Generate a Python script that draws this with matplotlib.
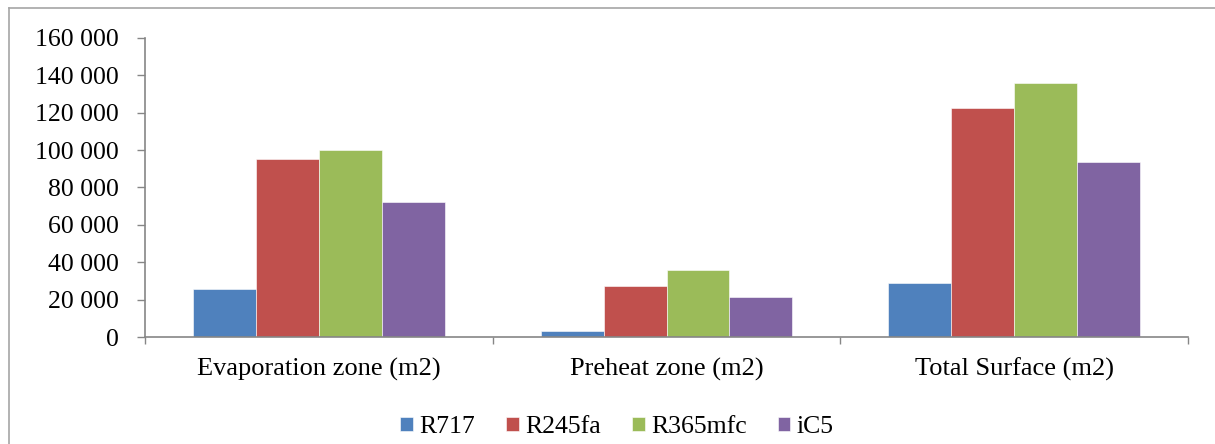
import numpy as np
import matplotlib
matplotlib.use('Agg')
import matplotlib.pyplot as plt
from matplotlib.ticker import FuncFormatter, FixedLocator
from matplotlib.lines import Line2D

# Chart data
categories = ['Evaporation zone (m2)', 'Preheat zone (m2)', 'Total Surface (m2)']
series_names = ['R717', 'R245fa', 'R365mfc', 'iC5']
r717 = [25500, 3200, 28800]
r245fa = [95000, 27400, 122500]
r365mfc = [100000, 36000, 136000]
ic5 = [72000, 21500, 93600]
y_ticks = [0, 20000, 40000, 60000, 80000, 100000, 120000, 140000, 160000]

colors = ['#4F81BD', '#C0504D', '#9BBB59', '#8064A2']
axis_grey = '#868686'

plt.rcParams['font.family'] = ['Liberation Serif', 'DejaVu Serif']

fig = plt.figure(figsize = (12.15, 4.44), dpi = 100)
ax = fig.add_axes([145/1215, 1 - 337/444, (1188 - 145)/1215, (337 - 38)/444])

# outer chart border: only top and left edges are inside the picture
bx, by = 8.5/1215, 1 - 8.5/444
fig.lines.append(Line2D([bx, 1.0], [by, by], transform = fig.transFigure, color = '#A6A6A6', linewidth = 1.2))
fig.lines.append(Line2D([bx, bx], [0.0, by], transform = fig.transFigure, color = '#A6A6A6', linewidth = 1.2))

x = np.arange(len(categories))
width = 0.181
all_values = [r717, r245fa, r365mfc, ic5]
for i in range(len(series_names)):
	ax.bar(x + (i - 1.5)*width, all_values[i], width, color = colors[i], label = series_names[i],
		edgecolor = 'white', linewidth = 0.4)

ax.set_xlim(-0.5, 2.5)
ax.set_ylim(0, 160000)
ax.set_yticks(y_ticks)
ax.yaxis.set_major_formatter(FuncFormatter(lambda v, p: '{:,.0f}'.format(v).replace(',', ' ')))
ax.set_xticks(x)
ax.set_xticklabels(categories)
ax.xaxis.set_minor_locator(FixedLocator([-0.5, 0.5, 1.5, 2.5]))

ax.tick_params(axis = 'x', which = 'major', length = 0, pad = 15, labelsize = 19)
ax.tick_params(axis = 'x', which = 'minor', length = 5, width = 1, color = axis_grey, direction = 'out')
ax.tick_params(axis = 'y', length = 6, width = 1, color = axis_grey, pad = 13, labelsize = 18.5)

for s in ['top', 'right']:
	ax.spines[s].set_visible(False)
for s in ['left', 'bottom']:
	ax.spines[s].set_color(axis_grey)
	ax.spines[s].set_linewidth(1.2)

leg = fig.legend(loc = 'center', bbox_to_anchor = (617/1215, 1 - 427/444), ncol = 4, frameon = False,
	fontsize = 18.5, handlelength = 0.5, handleheight = 0.5, handletextpad = 0.25, columnspacing = 1.2)

fig.savefig('out.png', dpi = 100)
